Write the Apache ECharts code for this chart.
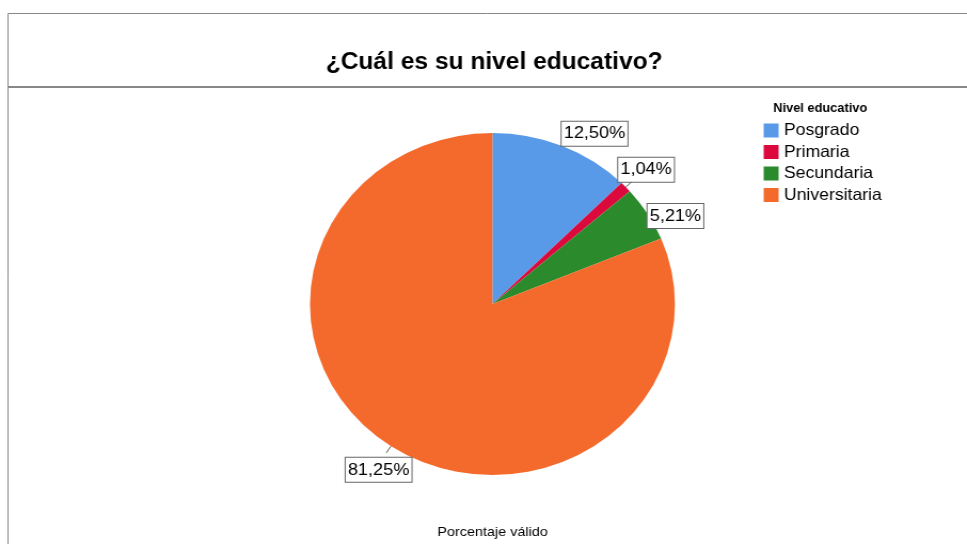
<!DOCTYPE html>
<html>
<head>
<meta charset="utf-8">
<script src="https://cdn.jsdelivr.net/npm/echarts@6/dist/echarts.min.js"></script>
<style>
html,body{margin:0;padding:0;background:#fff;overflow:hidden;}
/* the chart is laid out slightly narrower and widened horizontally, giving an oval pie */
#chart{width:906px;height:544px;transform:scaleX(1.0673);transform-origin:0 0;}
</style>
</head>
<body>
<div id="chart"></div>
<script>
const categories = ['Posgrado', 'Primaria', 'Secundaria', 'Universitaria'];
const percentages = [12.50, 1.04, 5.21, 81.25];
const colors = ['#5899e8', '#dc0a3c', '#2b8a2b', '#f46a2d'];

// nudges applied to each percentage box, relative to its default outside position
const labelShift = [[-8.7, -5], [-17.8, -12], [-11.7, 6.5], [28.6, 17]];

const chart = echarts.init(document.getElementById('chart'));
const font = '"Liberation Sans", Arial, sans-serif';
const W = 906;

chart.setOption({
  animation: false,
  color: colors,
  title: [
    {
      text: '¿Cuál es su nivel educativo?',
      left: 458, top: 46, textAlign: 'center',
      textStyle: { fontFamily: font, fontSize: 23, fontWeight: 'bold', color: '#000' }
    },
    {
      text: 'Nivel educativo',
      left: 719.5, top: 98,
      textStyle: { fontFamily: font, fontSize: 12, fontWeight: 'bold', color: '#000' }
    },
    {
      text: 'Porcentaje válido',
      left: 456.5, top: 520, textAlign: 'center',
      textStyle: { fontFamily: font, fontSize: 13.5, fontWeight: 'normal', color: '#000' }
    }
  ],
  legend: {
    orient: 'vertical',
    left: 710.5, top: 117,
    itemWidth: 14, itemHeight: 14, itemGap: 4.5,
    icon: 'rect',
    selectedMode: false,
    textStyle: { fontFamily: font, fontSize: 16.5, color: '#000', padding: [0, 0, 0, 0] },
    data: categories
  },
  graphic: [
    { type: 'line', shape: { x1: 7.5, y1: 13.5, x2: W, y2: 13.5 }, style: { stroke: '#888', lineWidth: 1 } },
    { type: 'line', shape: { x1: 7.5, y1: 13.5, x2: 7.5, y2: 544 }, style: { stroke: '#888', lineWidth: 1 } },
    { type: 'line', shape: { x1: 7.5, y1: 87, x2: W, y2: 87 }, style: { stroke: '#888', lineWidth: 2 } }
  ],
  series: [{
    type: 'pie',
    center: [461.4, 304],
    radius: 171,
    startAngle: 90,
    clockwise: true,
    avoidLabelOverlap: false,
    itemStyle: { borderWidth: 0 },
    label: {
      show: true,
      position: 'outside',
      formatter: p => percentages[p.dataIndex].toFixed(2).replace('.', ',') + '%',
      fontFamily: font, fontSize: 17, color: '#000',
      backgroundColor: '#fff',
      borderColor: '#666', borderWidth: 1,
      padding: [4, 2, 3, 2]
    },
    labelLine: { show: true, length: 8, length2: 0, lineStyle: { color: '#555', width: 1 } },
    labelLayout: p => ({ dx: labelShift[p.dataIndex][0], dy: labelShift[p.dataIndex][1] }),
    emphasis: { disabled: true },
    data: categories.map((c, i) => ({ name: c, value: percentages[i] }))
  }]
});
</script>
</body>
</html>
